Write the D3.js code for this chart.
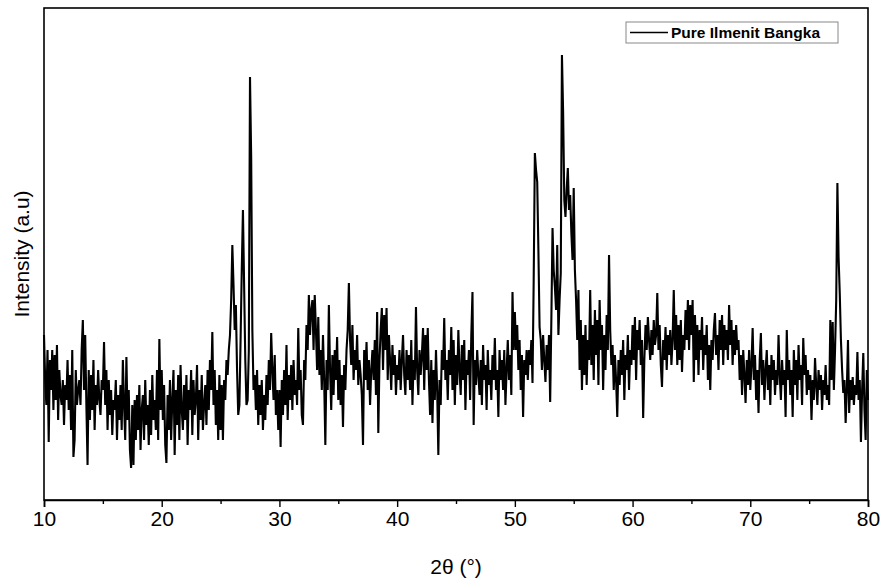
<!DOCTYPE html>
<html>
<head>
<meta charset="utf-8">
<script src="https://cdn.jsdelivr.net/npm/d3@7"></script>
<style>
  body { margin: 0; background: #fff; }
  text { font-family: "Liberation Sans", Arial, sans-serif; }
</style>
</head>
<body>
<svg width="884" height="580"></svg>
<script>
// 2θ grid: start, step (degrees)
var thetaStart = 10,
    thetaStep = 0.1;

// intensity (a.u.), one row per degree, 10 values per row
var intensity = [
    165,120,95,150,58,140,110,150,90,145,      // 10
    100,155,80,130,105,95,120,75,115,100,      // 11
    140,90,125,70,150,43,60,130,95,110,        // 12
    120,95,150,180,110,165,95,35,130,80,       // 13
    125,90,140,70,115,95,130,100,85,120,       // 14
    110,158,95,130,70,120,85,110,65,100,       // 15
    90,120,60,105,80,115,70,140,95,60,         // 16
    143,80,110,50,32,95,35,100,60,105,         // 17
    70,115,50,90,105,60,120,75,95,55,          // 18
    110,65,125,80,100,70,130,60,161,90,        // 19
    130,80,115,55,37,105,70,120,60,100,        // 20
    130,45,110,75,125,60,135,90,70,115,        // 21
    80,125,55,110,90,130,65,120,85,100,        // 22
    135,60,110,80,125,70,95,115,75,130,        // 23
    90,140,110,168,95,130,75,110,60,125,       // 24
    70,115,60,120,100,140,125,150,165,200,     // 25
    255,215,170,195,130,85,95,160,230,290,     // 26
    215,140,95,100,150,423,343,170,110,125,    // 27
    90,130,75,115,85,120,70,105,80,125,        // 28
    95,140,110,167,130,100,145,85,110,70,      // 29
    110,53,120,85,130,95,155,80,125,100,       // 30
    135,90,140,105,120,95,172,110,130,85,      // 31
    75,140,120,175,150,205,165,190,200,150,    // 32
    205,170,130,183,125,150,110,165,120,55,    // 33
    140,110,195,130,90,145,105,150,120,163,    // 34
    100,140,95,125,73,135,110,150,170,217,     // 35
    160,135,175,120,150,130,165,115,140,125,   // 36
    105,55,150,120,158,110,140,95,130,150,     // 37
    120,160,105,188,67,140,170,192,130,185,    // 38
    150,192,120,165,140,110,155,125,145,105,   // 39
    135,120,150,110,140,165,125,105,150,120,   // 40
    145,110,160,95,140,120,193,130,105,150,    // 41
    125,145,172,110,165,130,172,120,85,140,    // 42
    77,130,100,150,110,45,120,95,150,130,      // 43
    182,120,140,100,150,125,173,110,160,95,    // 44
    145,115,170,130,105,155,120,160,90,140,    // 45
    125,150,100,165,208,75,140,115,150,125,    // 46
    105,140,95,155,120,135,90,150,115,130,     // 47
    100,145,120,162,110,130,83,150,120,140,    // 48
    110,150,95,130,160,120,145,105,208,150,    // 49
    188,150,175,130,160,110,145,83,140,125,    // 50
    150,120,150,135,160,117,220,347,330,318,   // 51
    250,173,160,130,165,140,118,155,130,165,   // 52
    98,180,272,230,213,190,255,165,200,227,    // 53
    445,388,300,283,310,332,290,305,267,240,   // 54
    312,230,200,160,210,130,180,110,165,125,   // 55
    175,115,160,140,210,135,175,120,190,145,   // 56
    180,115,200,150,175,110,165,130,185,150,   // 57
    245,170,135,155,110,145,120,83,140,115,    // 58
    150,125,160,100,145,130,165,110,150,135,   // 59
    175,140,183,120,170,150,180,135,160,82,    // 60
    140,175,150,183,160,140,170,145,180,155,   // 61
    165,207,150,175,135,113,160,140,173,130,   // 62
    165,145,170,135,160,210,150,185,135,175,   // 63
    140,180,128,165,150,190,160,200,150,195,   // 64
    165,200,118,185,140,175,125,170,150,183,   // 65
    130,165,145,175,120,155,110,160,140,170,   // 66
    187,145,165,130,180,150,185,135,175,150,   // 67
    170,140,195,155,180,135,170,145,175,150,   // 68
    160,120,145,105,150,125,97,140,115,150,    // 69
    110,135,172,120,145,100,130,87,140,167,    // 70
    115,140,100,130,150,110,135,95,145,120,    // 71
    140,105,130,115,165,125,100,140,115,130,   // 72
    83,170,120,140,105,130,83,150,115,140,     // 73
    100,155,120,135,95,162,125,145,105,130,    // 74
    110,125,80,120,100,142,115,95,130,110,     // 75
    125,90,120,105,135,100,115,95,180,120,     // 76
    178,110,150,200,317,243,207,160,130,107,   // 77
    120,77,110,160,87,120,100,123,95,115,      // 78
    105,148,100,120,58,110,147,90,60,130,      // 79
    100                                        // 80
];

var xTicks = [10, 20, 30, 40, 50, 60, 70, 80];
var xMinorTicks = [15, 25, 35, 45, 55, 65, 75];
var seriesName = "Pure Ilmenit Bangka";

var svg = d3.select("svg"),
    margin = {top: 8, right: 16, bottom: 80, left: 44},
    width = +svg.attr("width") - margin.left - margin.right,
    height = +svg.attr("height") - margin.top - margin.bottom;

var data = intensity.map(function (v, i) {
    return {theta: thetaStart + i * thetaStep, value: v};
});

var x = d3.scaleLinear().domain([10, 80]).range([0, width]);
var y = d3.scaleLinear().domain([0, 492]).range([height, 0]);

var g = svg.append("g")
    .attr("transform", "translate(" + margin.left + "," + margin.top + ")");

var line = d3.line()
    .x(function (d) { return x(d.theta); })
    .y(function (d) { return y(d.value); });

g.append("path")
    .datum(data)
    .attr("fill", "none")
    .attr("stroke", "#000")
    .attr("stroke-width", 2.1)
    .attr("stroke-linejoin", "miter")
    .attr("d", line);

// frame
g.append("rect")
    .attr("width", width)
    .attr("height", height)
    .attr("fill", "none")
    .attr("stroke", "#000")
    .attr("stroke-width", 1.6);

// minor ticks
g.append("g")
    .attr("transform", "translate(0," + height + ")")
    .call(d3.axisBottom(x).tickValues(xMinorTicks).tickSize(4).tickFormat(""))
    .call(function (a) { a.select(".domain").remove(); })
    .selectAll("line").attr("stroke-width", 1.4);

var xAxis = g.append("g")
    .attr("transform", "translate(0," + height + ")")
    .call(d3.axisBottom(x).tickValues(xTicks).tickSize(7).tickPadding(4).tickFormat(d3.format("d")));
xAxis.select(".domain").attr("stroke-width", 1.6);
xAxis.selectAll("line").attr("stroke-width", 1.4);
xAxis.selectAll("text")
    .attr("font-size", 21)
    .attr("font-family", "Liberation Sans, Arial, sans-serif")
    .attr("fill", "#000");

svg.append("text")
    .attr("x", margin.left + width / 2)
    .attr("y", 574)
    .attr("text-anchor", "middle")
    .attr("font-size", 21)
    .text("2θ (°)");

svg.append("text")
    .attr("transform", "translate(29," + (margin.top + height / 2) + ") rotate(-90)")
    .attr("text-anchor", "middle")
    .attr("font-size", 21)
    .text("Intensity (a.u)");

// legend
var legend = svg.append("g").attr("transform", "translate(626,22)");
legend.append("rect")
    .attr("width", 212)
    .attr("height", 21)
    .attr("fill", "#fff")
    .attr("stroke", "#888")
    .attr("stroke-width", 1);
legend.append("line")
    .attr("x1", 4).attr("x2", 42)
    .attr("y1", 10.5).attr("y2", 10.5)
    .attr("stroke", "#000")
    .attr("stroke-width", 1.6);
legend.append("text")
    .attr("x", 45)
    .attr("y", 16)
    .attr("font-size", 15.5)
    .attr("font-weight", "bold")
    .text(seriesName);
</script>
</body>
</html>
